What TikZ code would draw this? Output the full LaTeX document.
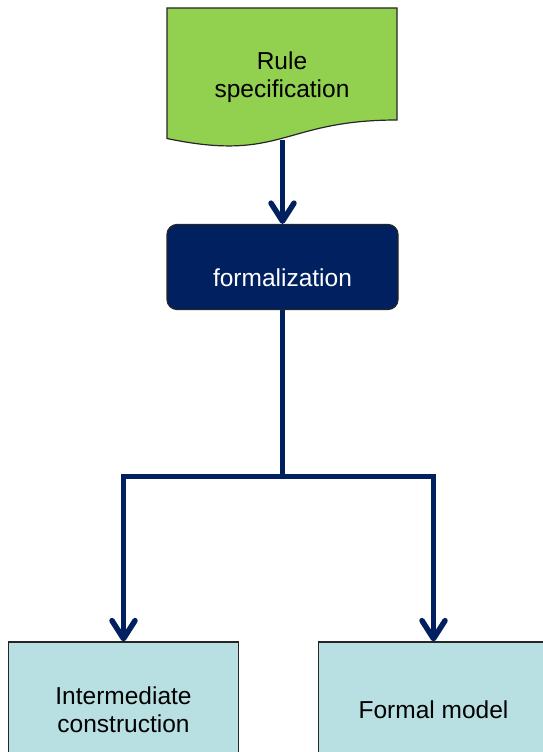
\documentclass[tikz,border=0pt]{standalone}
\usepackage{fontspec}
\setmainfont{Liberation Sans}
\usetikzlibrary{arrows.meta,positioning}
\definecolor{navy}{RGB}{0,32,96}
\definecolor{leaf}{RGB}{146,208,80}
\definecolor{aqua}{RGB}{184,223,226}

\begin{document}
\begin{tikzpicture}[x=1pt,y=-1pt,>={Straight Barb[round,length=18pt,width=23pt]},
		every node/.style={font=\fontsize{24.5}{28}\selectfont,inner sep=0pt},
		flow/.style={draw=navy,line width=5.5pt},
		outline/.style={draw=black!85,line width=1.2pt},
		result/.style={outline,fill=aqua,minimum width=230pt,minimum height=150pt}]
		\useasboundingbox (0,0) rectangle (543,752);

		% input document with wavy bottom
		\draw[outline,fill=leaf] (167,8) -- (397,8) -- (397,120)
			.. controls (282,120) and (282,162.7) .. (167,138.5) -- cycle;
		\node (spec) [align=center] at (282,77) {Rule\\specification};
		\coordinate (specbot) at (282.5,140);

		\node[outline,fill=navy,rounded corners=10pt,minimum width=231pt,minimum height=85pt] (form) at (282.5,267) {};
		\node[text=white] (formtxt) at (282.5,277.5) {formalization};

		\coordinate (split) at (282.5,476.5);
		\node[result] (inter) at (123.5,717) {};
		\node[result] (model) at (433.5,717) {};
		\node (intertxt) [align=center] at (123.5,709.5) {Intermediate\\construction};
		\node (modeltxt) at (433.5,710) {Formal model};

		\draw[flow,->] (specbot) -- (form.north);
		\draw[flow] (form.south) -- (split);
		\draw[flow,->] (split) -| (inter.north);
		\draw[flow,->] (split) -| (model.north);
	\end{tikzpicture}
\end{document}
